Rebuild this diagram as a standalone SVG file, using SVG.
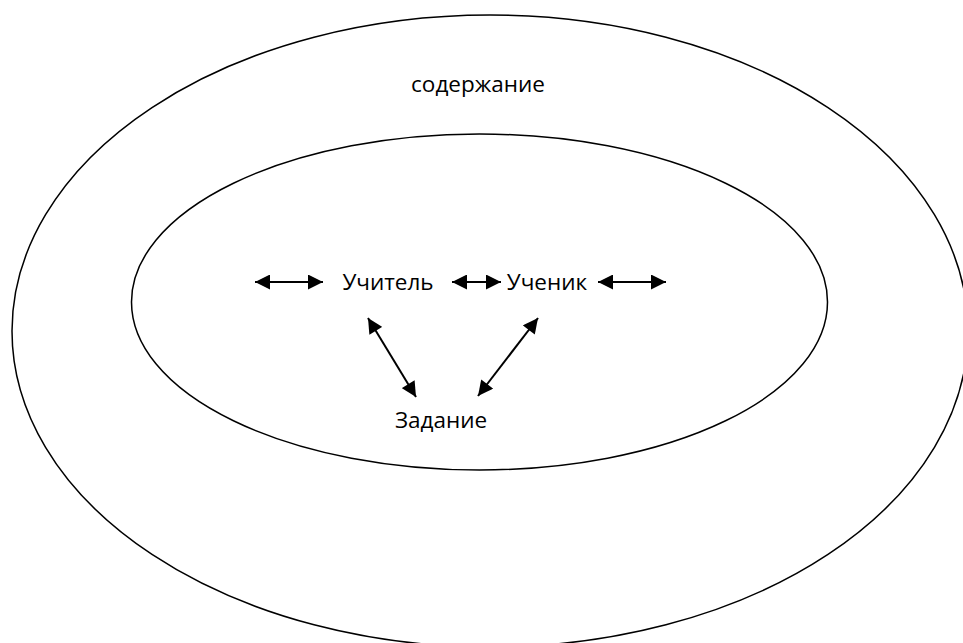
<svg xmlns="http://www.w3.org/2000/svg" width="963" height="643" viewBox="0 0 963 643">
<style>
.ring{fill:none;stroke:#000;stroke-width:1.5}
.lbl{font-family:"Open Sans","Noto Sans","DejaVu Sans",sans-serif;font-size:22.5px;fill:#000;text-anchor:middle}
.arr{stroke:#000;stroke-width:2;fill:none;marker-start:url(#hs);marker-end:url(#he)}
</style>
<defs>
<marker id="he" viewBox="0 0 10 10" refX="10" refY="5" markerWidth="8" markerHeight="7.5" markerUnits="strokeWidth" orient="auto">
<path d="M0,0 L10,5 L0,10 Z" fill="#000"/>
</marker>
<marker id="hs" viewBox="0 0 10 10" refX="0" refY="5" markerWidth="8" markerHeight="7.5" markerUnits="strokeWidth" orient="auto">
<path d="M10,0 L0,5 L10,10 Z" fill="#000"/>
</marker>
</defs>
<rect width="963" height="643" fill="#fff"/>
<g id="outer">
<ellipse class="ring" cx="490" cy="331" rx="478" ry="316"/>
<text class="lbl" x="478" y="92">содержание</text>
</g>
<g id="inner">
<ellipse class="ring" cx="479.5" cy="302" rx="348" ry="168"/>
</g>
<g id="uchitel"><text class="lbl" x="388" y="290">Учитель</text></g>
<g id="uchenik"><text class="lbl" x="547" y="290">Ученик</text></g>
<g id="zadanie"><text class="lbl" x="441" y="428">Задание</text></g>
<g id="connectors">
<line class="arr" x1="255" y1="282" x2="323" y2="282"/>
<line class="arr" x1="452" y1="282" x2="501" y2="282"/>
<line class="arr" x1="598" y1="282" x2="666" y2="282"/>
<line class="arr" x1="368" y1="318" x2="416" y2="397"/>
<line class="arr" x1="538" y1="318" x2="478" y2="396"/>
</g>
</svg>
